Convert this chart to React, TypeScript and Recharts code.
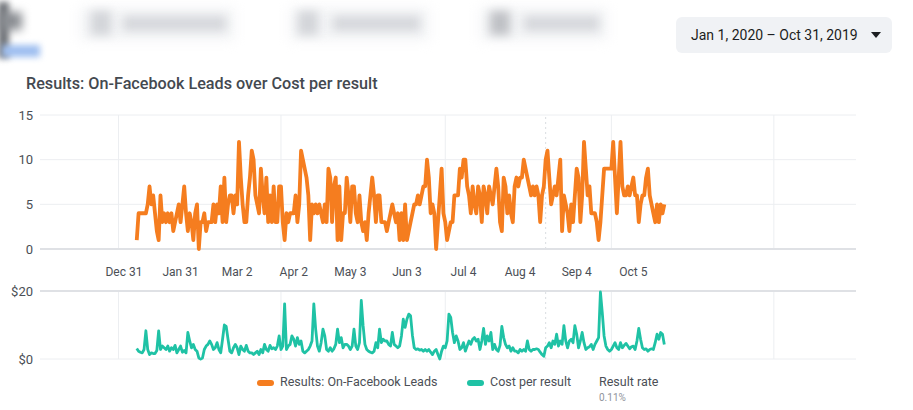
import { LineChart, Line, XAxis, YAxis, CartesianGrid, ReferenceLine } from 'recharts';

// day 0 = Jan 1, 2020; the series start on Jan 7
const FIRST_DAY = 6;

const leads = [
  1, 4, 4, 4, 4, 4, 5, 7, 5, 6, 4, 2, 1, 6, 3, 4, 3, 4, 3, 4,
  2, 3, 4, 5, 3, 5, 7, 4, 2, 4, 3, 1, 4, 5, 0, 3, 3, 4, 2, 3,
  3, 3, 5, 3, 5, 4, 7, 3, 8, 3, 5, 6, 6, 4, 6, 5, 12,
  8, 5, 3, 3, 6, 8, 11, 10, 6, 5, 4, 9, 6, 4, 8, 3, 6, 3, 7, 3,
  3, 7, 7, 3, 1, 4, 3, 4, 4, 4, 6, 3, 5, 11, 10, 9, 8, 6, 1, 5,
  4, 5, 4, 5, 4, 3, 5, 3, 9, 8, 3, 7, 8, 1, 7, 1, 4, 4, 8, 6,
  3, 7, 7, 4, 3, 6, 3, 2, 3, 1, 4, 6, 8, 6, 3, 6,
  6, 3, 3, 3, 2, 3, 4, 5, 4, 3, 4, 1, 4, 1, 5, 1, 2, 3, 4, 5,
  5, 6, 5, 6, 7, 7, 10, 8, 4, 5, 4, 0, 3, 6, 9, 4, 3, 1, 2, 3,
  3, 6, 6, 6, 9, 8, 10, 10, 7, 6, 4, 7, 5, 4, 7, 6, 3, 7, 6, 4,
  7, 6, 5, 7, 9, 7, 3, 2, 8, 7, 4, 6, 4, 3, 7, 8, 7, 8, 8, 10,
  9, 8, 7,
  6, 7, 6, 7, 6, 3, 6, 7, 10, 11, 8, 5, 6, 7, 6, 8, 10, 2, 6, 5,
  4, 2, 5, 3, 6, 9, 8, 3, 6, 12, 9, 6, 7, 4, 4, 4, 3, 1, 3, 6,
  9, 9, 9, 9, 9, 12, 8, 4, 8, 12, 7, 6, 6, 7, 6, 7, 8, 6, 6, 3,
  5, 6, 6, 8, 9, 6, 5, 4, 3, 5, 3, 5, 4, 5,
];

const costPerResult = [
  3.1, 2.3, 2.0, 1.8, 2.8, 8.3, 2.8, 1.3, 1.8, 1.6, 1.6, 2.5, 8.3, 2.8, 3.8, 3.3, 2.8, 3.8, 2.3, 3.3,
  2.8, 4.0, 1.8, 2.8, 3.8, 2.0, 2.5, 1.8, 7.8, 5.3, 3.3, 4.3, 2.8, 2.3, 0.3, 0.0, 0.3, 2.8, 3.8, 4.3,
  5.3, 4.3, 2.8, 3.3, 4.8, 2.8, 1.8, 5.8, 10.0, 9.6, 5.8, 2.3, 1.8, 3.3, 4.3, 3.3, 1.3, 3.8, 2.8, 2.3,
  4.0, 2.3, 1.8, 1.8, 1.3, 1.8, 2.3, 1.3, 2.8, 1.8, 4.3, 2.8, 2.3, 4.0, 3.0, 3.3, 2.8, 3.8, 6.8, 2.8,
  3.8, 16.2, 2.8, 3.8, 4.3, 6.8, 5.8, 3.8, 6.3, 4.3, 5.3, 2.3, 1.8, 2.3, 2.8, 3.8, 5.3, 16.2, 8.8, 3.8,
  2.3, 4.8, 8.8, 6.8, 2.8, 2.3, 3.3, 2.3, 3.0, 4.3, 8.8, 4.8, 6.3, 3.3, 4.3, 4.3, 3.8, 2.8, 3.8, 8.8,
  3.8, 2.8, 4.8, 17.2, 9.8, 4.3, 2.8, 2.3, 2.0, 1.8, 2.3, 4.8, 3.3, 8.8, 4.8, 5.8, 5.3, 5.3, 4.3, 3.8,
  7.8, 4.3, 3.8, 3.3, 3.8,
  6.8, 11.7, 9.3, 11.7, 13.2, 12.7, 7.0, 3.3, 2.8, 3.0, 2.6, 2.8, 2.3, 2.8, 2.3, 2.8, 2.0, 1.3, 2.3, 2.8,
  1.3, 0.0, 2.3, 3.8, 3.3, 5.3, 13.2, 12.2, 7.8, 4.8, 6.8, 5.3, 2.8, 3.3, 4.8, 2.3, 3.8, 5.3, 4.3, 5.8,
  6.3, 5.3, 5.8, 2.8, 5.3, 9.0, 4.3, 6.8, 5.3, 7.8, 2.8, 4.3, 2.8, 2.3, 4.0, 9.6, 6.3, 4.3, 3.3, 3.8,
  2.3, 3.3, 2.3, 2.3, 1.8, 2.8, 2.3, 2.8, 2.3, 5.3, 2.8, 2.3, 2.8, 2.8, 3.0, 2.8, 2.0, 1.3, 0.8, 3.3,
  3.8, 4.8, 3.3, 5.3, 4.3, 7.3, 3.8, 5.3, 4.3, 9.8, 5.3, 3.3, 5.3, 5.8, 4.8, 9.8, 7.3, 3.3, 5.3, 7.8,
  4.8, 2.8, 3.3, 3.6, 4.3, 2.8, 4.3, 5.3, 6.3, 19.7, 13.7, 6.8, 3.8, 2.8, 2.3, 2.8, 3.8, 4.8, 3.3, 2.8,
  4.8, 3.3, 4.0, 4.6, 3.8, 3.0, 3.6, 3.8, 2.8, 5.3, 9.0, 5.8, 3.3, 2.8, 3.0, 2.3, 2.8, 3.0, 2.8, 4.8,
  7.3, 5.8, 7.8, 7.3, 4.3,
];

const dayTicks = [-1, 30, 61, 92, 123, 154, 185, 216, 247, 278];
const dayLabels = ['Dec 31', 'Jan 31', 'Mar 2', 'Apr 2', 'May 3', 'Jun 3', 'Jul 4', 'Aug 4', 'Sep 4', 'Oct 5'];
const gridDays = [-4, 85, 175, 266, 355];
const markerDay = 230;
const leadTicks = [0, 5, 10, 15];
const costTicks = [0, 20];

const ORANGE = '#f57d1f';
const TEAL = '#1fc2a5';
const GRID = '#eceef1';
const FRAME = '#dfe1e5';
const TEXT = '#4b4f56';
const DOMAIN: [number, number] = [-47, 400];

const data = leads.map((v, i) => ({ day: FIRST_DAY + i, leads: v, cost: costPerResult[i] }));

// blurred navigation tabs behind the chart card
const tabs = [
  { left: 80, width: 154, icon: 91, text: 123, textW: 103, iconColor: '#d3d5d9' },
  { left: 290, width: 139, icon: 298, text: 333, textW: 87, iconColor: '#d3d5d9' },
  { left: 480, width: 127, icon: 490, text: 524, textW: 75, iconColor: '#bfc1c5' },
];

function abs(left: number, top: number, extra: React.CSSProperties = {}): React.CSSProperties {
  return { position: 'absolute', left, top, ...extra };
}

export default function App() {
  return (
    <div
      style={{
        position: 'fixed',
        left: 0,
        top: 0,
        width: 913,
        height: 410,
        background: '#fff',
        overflow: 'hidden',
        fontFamily: 'Roboto, "Noto Sans", sans-serif',
        color: TEXT,
      }}
    >
      <div style={abs(-2, 2, { width: 11, height: 56, background: '#6f7277', filter: 'blur(3px)' })} />
      <div style={abs(0, 12, { width: 22, height: 18, background: '#8a8d92', filter: 'blur(5px)' })} />
      <div style={abs(2, 45, { width: 38, height: 12, background: '#9fbff0', filter: 'blur(3px)' })} />
      {tabs.map((t, i) => (
        <div key={i}>
          <div style={abs(t.left, 8, { width: t.width, height: 32, background: '#f3f4f6', filter: 'blur(6px)' })} />
          <div style={abs(t.icon, 11, { width: 20, height: 24, background: t.iconColor, filter: 'blur(5px)' })} />
          <div style={abs(t.text, 16, { width: t.textW, height: 15, background: '#d6d8dc', filter: 'blur(5px)' })} />
        </div>
      ))}

      {/* date range picker */}
      <div
        style={abs(676, 17, {
          width: 216,
          height: 36,
          background: '#f0f2f5',
          borderRadius: 6,
          display: 'flex',
          alignItems: 'center',
          paddingLeft: 15,
          boxSizing: 'border-box',
          fontSize: 14,
          color: '#1c1e21',
        })}
      >
        Jan 1, 2020 – Oct 31, 2019
      </div>
      <div
        style={abs(871, 32, {
          width: 0,
          height: 0,
          borderLeft: '5px solid transparent',
          borderRight: '5px solid transparent',
          borderTop: '6px solid #1c1e21',
        })}
      />

      <div style={abs(26, 74, { fontSize: 16.2, fontWeight: 500, color: '#444950' })}>
        Results: On-Facebook Leads over Cost per result
      </div>

      <div style={abs(0, 0)}>
        <LineChart width={913} height={300} data={data} margin={{ top: 115, right: 57, bottom: 0, left: 0 }}>
          <CartesianGrid vertical={false} stroke={GRID} />
          {gridDays.map(d => (
            <ReferenceLine key={d} x={d} stroke={GRID} />
          ))}
          <ReferenceLine x={markerDay} stroke="#dadde1" strokeDasharray="2 3" />
          <ReferenceLine y={0} stroke={FRAME} strokeWidth={2} />
          <XAxis
            type="number"
            dataKey="day"
            domain={DOMAIN}
            ticks={dayTicks}
            interval={0}
            tickFormatter={(d: number) => dayLabels[dayTicks.indexOf(d)] ?? ''}
            axisLine={false}
            tickLine={false}
            tickSize={0}
            tickMargin={18}
            height={51}
            tick={{ fontSize: 12, fill: TEXT }}
          />
          <YAxis
            domain={[0, 15]}
            ticks={leadTicks}
            width={40}
            axisLine={false}
            tickLine={false}
            tickSize={0}
            tickMargin={7}
            tick={{ fontSize: 13, fill: TEXT }}
          />
          <Line
            type="linear"
            dataKey="leads"
            stroke={ORANGE}
            strokeWidth={3.8}
            strokeLinejoin="round"
            dot={false}
            isAnimationActive={false}
          />
        </LineChart>
      </div>

      <div style={abs(0, 0)}>
        <LineChart width={913} height={370} data={data} margin={{ top: 291, right: 57, bottom: 11, left: 0 }}>
          <CartesianGrid vertical={false} stroke={GRID} />
          {gridDays.map(d => (
            <ReferenceLine key={d} x={d} stroke={GRID} />
          ))}
          <ReferenceLine x={markerDay} stroke="#dadde1" strokeDasharray="2 3" />
          <ReferenceLine y={20} stroke={FRAME} strokeWidth={2} />
          <XAxis type="number" dataKey="day" domain={DOMAIN} hide />
          <YAxis
            domain={[0, 20]}
            ticks={costTicks}
            width={40}
            axisLine={false}
            tickLine={false}
            tickSize={0}
            tickMargin={7}
            tickFormatter={(v: number) => `$${v}`}
            tick={{ fontSize: 13, fill: TEXT }}
          />
          <Line
            type="linear"
            dataKey="cost"
            stroke={TEAL}
            strokeWidth={2.8}
            strokeLinejoin="round"
            dot={false}
            isAnimationActive={false}
          />
        </LineChart>
      </div>

      {/* legend */}
      <div style={abs(257, 380, { width: 17, height: 6, borderRadius: 3, background: ORANGE })} />
      <div style={abs(280, 374, { fontSize: 12.5, lineHeight: '16px' })}>Results: On-Facebook Leads</div>
      <div style={abs(467, 380, { width: 17, height: 6, borderRadius: 3, background: TEAL })} />
      <div style={abs(490, 374, { fontSize: 12.5, lineHeight: '16px' })}>Cost per result</div>
      <div style={abs(599, 374, { fontSize: 12.5, lineHeight: '16px' })}>Result rate</div>
      <div style={abs(599, 392, { fontSize: 10, lineHeight: '12px', color: '#90949c' })}>0.11%</div>
    </div>
  );
}
